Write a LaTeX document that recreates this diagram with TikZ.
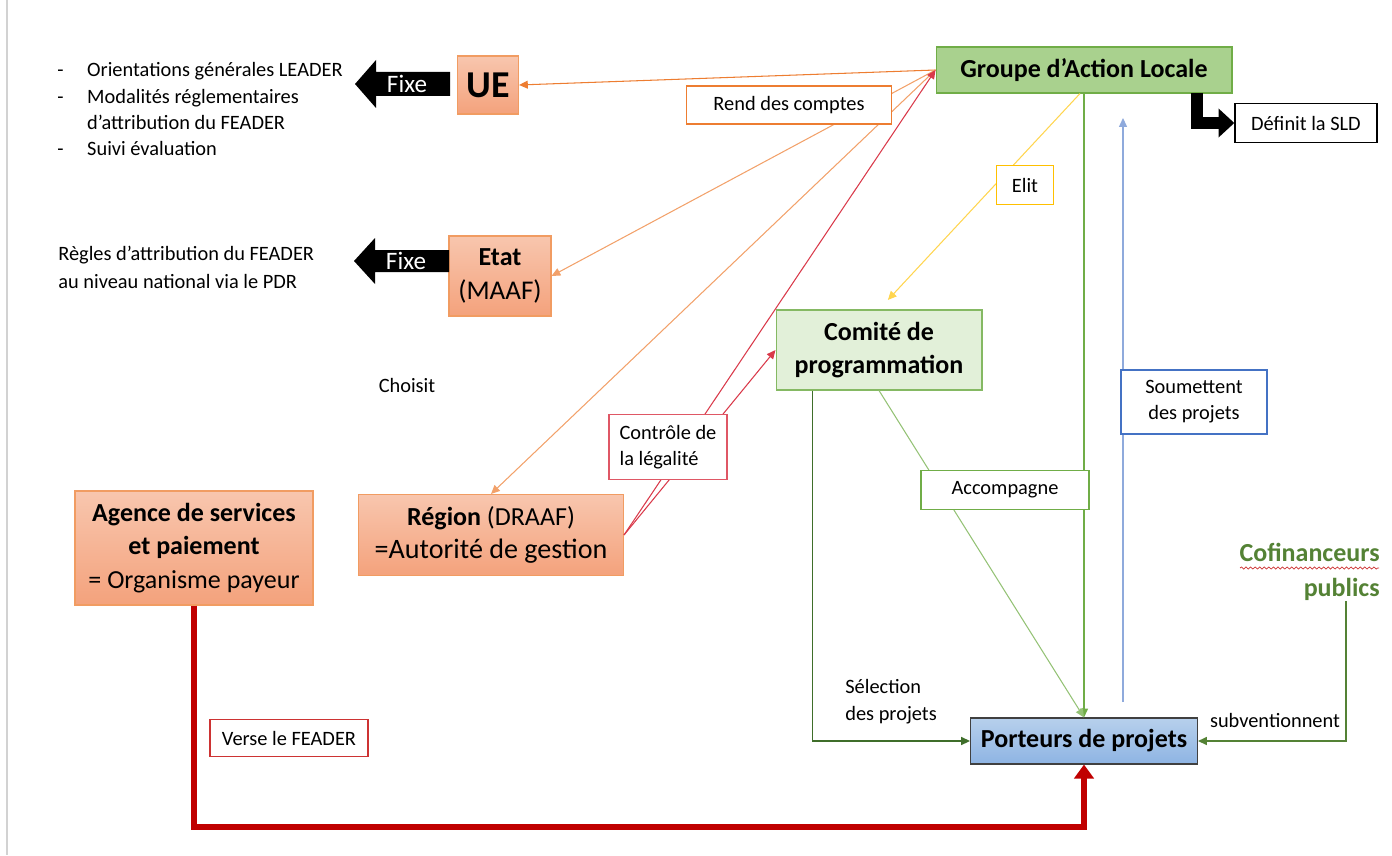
\documentclass[tikz,border=0pt]{standalone}
\usepackage{fontspec}
\setmainfont{Carlito}
\usetikzlibrary{arrows.meta,decorations.pathmorphing}

\definecolor{orfonce}{HTML}{ED7D31}
\definecolor{orclair}{HTML}{F4B183}
\definecolor{orhaut}{HTML}{F8C6AE}
\definecolor{orbas}{HTML}{F4A27C}
\definecolor{vertgal}{HTML}{A9D18E}
\definecolor{vertbord}{HTML}{70AD47}
\definecolor{vertpale}{HTML}{E2F0D9}
\definecolor{vertfonce}{HTML}{3F6E2A}
\definecolor{vertcofi}{HTML}{548235}
\definecolor{rouge}{HTML}{C00000}
\definecolor{rougeclair}{HTML}{D9394A}
\definecolor{jaune}{HTML}{FFC000}
\definecolor{jauneclair}{HTML}{FFD54F}
\definecolor{bleu}{HTML}{4472C4}
\definecolor{bleuclair}{HTML}{8FAADC}
\definecolor{bleuhaut}{HTML}{B7D0EC}
\definecolor{bleubas}{HTML}{8EB4E3}

\newcommand{\tiret}{\makebox[17pt][l]{-}}
\newcommand{\retrait}{\hspace*{17pt}}

\tikzset{
  boite/.style={draw, rectangle, inner sep=2pt, align=center},
  titre/.style={font=\fontsize{14.8}{19}\selectfont},
  boiteorange/.style={boite, titre, draw=orclair!60!orfonce, top color=orhaut, bottom color=orbas, line width=0.6pt},
  boiteverte/.style={boite, font=\fontsize{14.8}{19}\selectfont\bfseries, line width=0.6pt},
  etiquette/.style={boite, fill=white, line width=0.9pt, font=\fontsize{11.6}{14.8}\selectfont},
  texte/.style={inner sep=0pt, font=\fontsize{11.6}{14.8}\selectfont},
  fixe/.style={inner sep=0pt, text=white, font=\fontsize{14.3}{15}\selectfont},
  fleche/.style={-{Triangle[length=5pt,width=4.5pt]}, line width=0.6pt},
  grosnoir/.style={-{Triangle[length=9pt,width=16pt]}, line width=6.8pt, black},
  grosrouge/.style={-{Triangle[length=8pt,width=11pt]}, line width=3.4pt, rouge},
}

\begin{document}
\begin{tikzpicture}[x=0.02cm, y=-0.02cm]
  \useasboundingbox (0,0) rectangle (1392,855);
  % bord de page
  \draw[gray!35, line width=0.6pt] (7,0) -- (7,855);

  % boites principales
  \node[boiteorange, minimum width=1.22cm, minimum height=1.16cm,
        font=\fontsize{21.6}{24}\selectfont\bfseries] (ue) at (488,85) {UE};
  \node[boiteorange, minimum width=2.04cm, minimum height=1.6cm] (etat) at (500,276)
        {\textbf{Etat}\\\fontsize{15.4}{19}\selectfont(MAAF)};
  \node[boiteorange, minimum width=5.3cm, minimum height=1.62cm] (region) at (491,535)
        {\textbf{Région} (DRAAF)\\\fontsize{16}{19}\selectfont=Autorité de gestion};
  \node[boiteorange, minimum width=4.76cm, minimum height=2.28cm] (agence) at (194,548)
        {\textbf{Agence de services}\\\textbf{et paiement}\\= Organisme payeur};
  \node[boiteverte, fill=vertgal, draw=vertbord, minimum width=5.92cm, minimum height=0.92cm]
        (gal) at (1084,70) {Groupe d’Action Locale};
  \node[boiteverte, fill=vertpale, draw=vertbord!85, minimum width=4.12cm, minimum height=1.6cm]
        (comite) at (879,350) {Comité de\\programmation};
  \node[boiteverte, draw=black!75, top color=bleuhaut, bottom color=bleubas,
        minimum width=4.54cm, minimum height=0.92cm] (porteurs) at (1084,741) {Porteurs de projets};
  \node[etiquette, draw=black, line width=0.8pt, minimum width=2.84cm, minimum height=0.78cm]
        (sld) at (1306,123) {Définit la SLD};

  % Fixe (UE et Etat)
  \fill (450,72) -- (376,72) -- (376,60) -- (355,84) -- (376,108) -- (376,96) -- (450,96) -- cycle;
  \node[fixe] (fixeue) at (407,84) {Fixe};
  \fill (449,250) -- (375,250) -- (375,238) -- (354,261) -- (375,284) -- (375,272) -- (449,272) -- cycle;
  \node[fixe] (fixeetat) at (406,261) {Fixe};

  % textes libres
  \node[texte, anchor=west, align=left] (orient) at (57,109)
        {\tiret Orientations générales LEADER\\\tiret Modalités réglementaires\\\retrait d’attribution du FEADER\\\tiret Suivi évaluation};
  \node[texte, anchor=west, align=left, font=\fontsize{11.6}{15.9}\selectfont] (regles) at (58,267)
        {Règles d’attribution du FEADER\\au niveau national via le PDR};
  \node[texte] (choisit) at (407,385) {Choisit};
  \node[texte, anchor=west, align=left, font=\fontsize{11.6}{15.3}\selectfont] (selection) at (845,702)
        {Sélection\\des projets};
  \node[texte] (subv) at (1275,720) {subventionnent};
  \node[texte, anchor=east, align=right, text=vertcofi, font=\fontsize{14.8}{20}\selectfont\bfseries]
        (cofin) at (1380,572) {Cofinanceurs\\publics};
  \draw[rouge!80, line width=0.4pt, decorate, decoration={snake, amplitude=0.6pt, segment length=2.6pt}]
        (1240,568) -- (1379,568);

  % Rend des comptes
  \draw[fleche, orfonce] (gal.west) -- (ue.east);
  \draw[fleche, orclair!70!orfonce] (gal.west) -- (etat.east);
  \draw[fleche, orclair!70!orfonce] (gal.west) -- (region.north);
  % Controle de la legalite
  \draw[fleche, rougeclair] (region.east) -- (gal.west);
  \draw[fleche, rougeclair] (region.east) -- (comite.west);
  % Elit
  \draw[fleche, jauneclair, shorten >=0.26cm] ([xshift=-0.08cm]gal.south) -- (comite.north);
  % Accompagne
  \draw[fleche, vertbord] (gal.south) -- (porteurs.north);
  \draw[fleche, vertbord!75] (comite.south) -- (porteurs.north);
  % Soumettent des projets
  \coordinate (soumbas) at (1123,702);
  \coordinate (soumhaut) at (1123,118);
  \draw[fleche, bleuclair] (soumbas) -- (soumhaut);
  % Selection des projets
  \draw[fleche, vertfonce, line width=0.9pt] ([xshift=0.74cm]comite.south west) |- (porteurs.west);
  % subventionnent
  \draw[fleche, vertcofi, line width=0.9pt] ([xshift=-0.68cm]cofin.south east) |- (porteurs.east);
  % Verse le FEADER
  \draw[grosrouge] (agence.south) -- ++(0,221) -| (porteurs.south);
  % Definit la SLD
  \coordinate (sldpied) at (1197,93);
  \draw[grosnoir] (sldpied) |- (sld.west);

  % etiquettes
  \node[etiquette, draw=orfonce, line width=1.1pt, minimum width=4.1cm, minimum height=0.76cm]
        (rend) at (789,105) {Rend des comptes};
  \node[etiquette, draw=jaune, minimum width=1.14cm, minimum height=0.78cm] (elit) at (1025,185) {Elit};
  \node[etiquette, draw=bleu, minimum width=2.92cm, minimum height=1.28cm] (soum) at (1194,402)
        {Soumettent\\des projets};
  \node[etiquette, draw=vertbord, minimum width=3.36cm, minimum height=0.78cm] (accomp) at (1005,490)
        {Accompagne};
  \node[etiquette, draw=rougeclair!85, align=left, minimum width=2.36cm, minimum height=1.3cm]
        (controle) at (668,447) {Contrôle de\\la légalité};
  \node[etiquette, draw=rouge!80, minimum width=3.16cm, minimum height=0.74cm] (verse) at (289,738)
        {Verse le FEADER};
\end{tikzpicture}
\end{document}
